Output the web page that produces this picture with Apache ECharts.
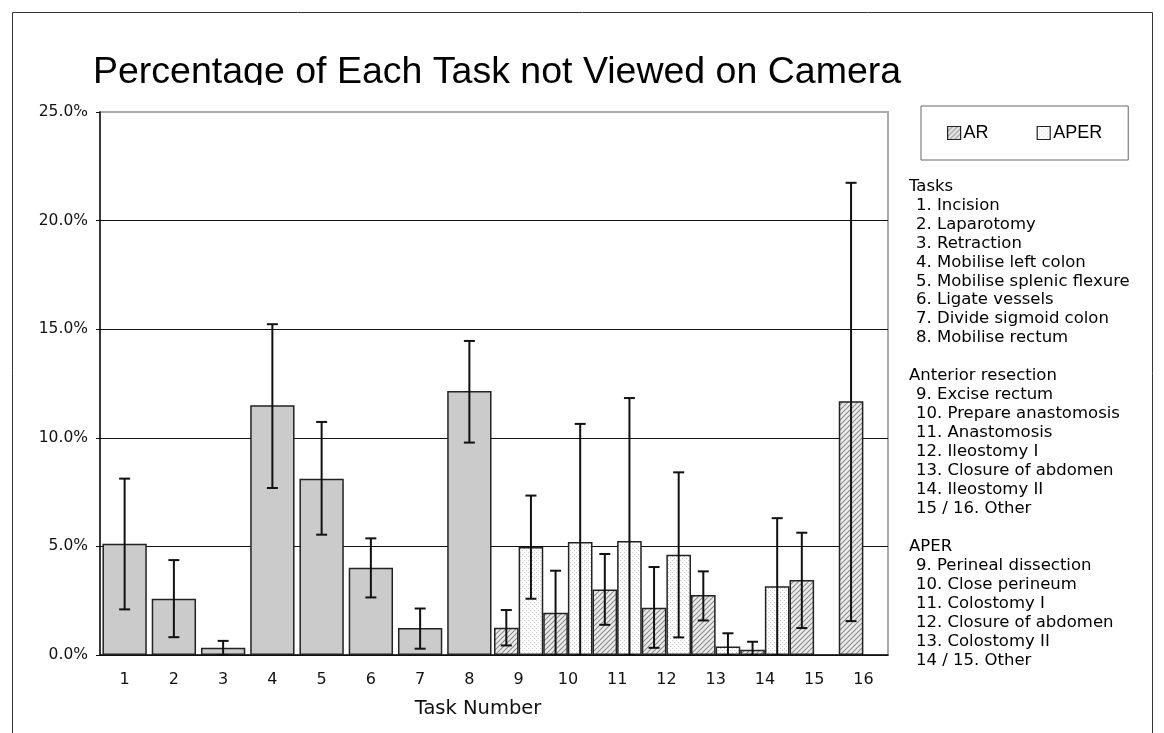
<!DOCTYPE html>
<html>
<head>
<meta charset="utf-8">
<script src="https://cdn.jsdelivr.net/npm/echarts@6/dist/echarts.min.js"></script>
<style>
  html, body { margin: 0; padding: 0; background: #fff; }
  #chart { width: 1164px; height: 733px; }
</style>
</head>
<body>
<div id="chart"></div>
<script>
// tasks on the x axis
const tasks = ['1', '2', '3', '4', '5', '6', '7', '8', '9', '10', '11', '12', '13', '14', '15', '16'];
// tasks 1-8 (common to both operations)
const allMean = [5.12, 2.59, 0.33, 11.5, 8.12, 4.02, 1.24, 12.16, null, null, null, null, null, null, null, null];
const allLow  = [2.1, 0.82, 0.0, 7.69, 5.54, 2.65, 0.29, 9.78, null, null, null, null, null, null, null, null];
const allHigh = [8.12, 4.37, 0.65, 15.23, 10.73, 5.37, 2.14, 14.46, null, null, null, null, null, null, null, null];
// anterior resection
const arMean = [null, null, null, null, null, null, null, null, 1.25, 1.94, 3.02, 2.18, 2.76, 0.24, 3.45, 11.68];
const arLow  = [null, null, null, null, null, null, null, null, 0.44, 0.0, 1.39, 0.33, 1.59, 0.0, 1.24, 1.56];
const arHigh = [null, null, null, null, null, null, null, null, 2.07, 3.88, 4.65, 4.05, 3.85, 0.61, 5.63, 21.74];
// APER
const aperMean = [null, null, null, null, null, null, null, null, 4.97, 5.2, 5.25, 4.62, 0.39, 3.16, null, null];
const aperLow  = [null, null, null, null, null, null, null, null, 2.59, 0.0, 0.0, 0.81, 0.0, 0.0, null, null];
const aperHigh = [null, null, null, null, null, null, null, null, 7.34, 10.64, 11.83, 8.41, 1.0, 6.3, null, null];

const taskHeads = ['Tasks', '', '', '', '', '', '', '', '', '', 'Anterior resection', '', '', '', '', '', '', '', '', 'APER'];
const taskItems = ['', '1. Incision', '2. Laparotomy', '3. Retraction', '4. Mobilise left colon',
  '5. Mobilise splenic flexure', '6. Ligate vessels', '7. Divide sigmoid colon', '8. Mobilise rectum', '',
  '', '9. Excise rectum', '10. Prepare anastomosis', '11. Anastomosis', '12. Ileostomy I',
  '13. Closure of abdomen', '14. Ileostomy II', '15 / 16. Other', '',
  '', '9. Perineal dissection', '10. Close perineum', '11. Colostomy I', '12. Closure of abdomen',
  '13. Colostomy II', '14 / 15. Other'];

// fill patterns
function hatch() {
  const c = document.createElement('canvas');
  c.width = 5; c.height = 5;
  const g = c.getContext('2d');
  g.fillStyle = '#ececec';
  g.fillRect(0, 0, 5, 5);
  g.strokeStyle = '#8c8c8c';
  g.lineWidth = 1.1;
  g.beginPath();
  g.moveTo(-1, 6); g.lineTo(6, -1);
  g.moveTo(-1, 1); g.lineTo(1, -1);
  g.moveTo(4, 6); g.lineTo(6, 4);
  g.stroke();
  return c;
}
function dots() {
  const c = document.createElement('canvas');
  c.width = 4; c.height = 4;
  const g = c.getContext('2d');
  g.fillStyle = '#ffffff';
  g.fillRect(0, 0, 4, 4);
  g.fillStyle = '#c8c8c8';
  g.fillRect(0, 0, 1, 1);
  g.fillRect(2, 2, 1, 1);
  return c;
}

const chart = echarts.init(document.getElementById('chart'));

const gap = 0.0;
function errBars(mean, low, high) {
  return tasks.map((t, i) => mean[i] == null ? null : [i, low[i], high[i]]).filter(d => d);
}
function errRender(shift) {
  return function (params, api) {
    const i = api.value(0);
    const lo = api.coord([i, api.value(1)]);
    const hi = api.coord([i, api.value(2)]);
    const w = api.size([1, 0])[0];
    const x = lo[0] + shift * w * (1 - gap) / 4;
    const cap = 5.5;
    const st = { stroke: '#111', lineWidth: 2 };
    return {
      type: 'group',
      children: [
        { type: 'line', shape: { x1: x, y1: hi[1], x2: x, y2: lo[1] }, style: st },
        { type: 'line', shape: { x1: x - cap, y1: hi[1], x2: x + cap, y2: hi[1] }, style: st },
        { type: 'line', shape: { x1: x - cap, y1: lo[1], x2: x + cap, y2: lo[1] }, style: st }
      ]
    };
  };
}

const labelFont = { fontFamily: 'DejaVu Sans', color: '#111' };

const option = {
  animation: false,
  title: {
    text: 'Percentage of Each Task not Viewed on Camera',
    left: 93,
    top: 54,
    padding: 0,
    textStyle: { fontFamily: 'Liberation Sans', fontSize: 37.5, fontWeight: 'normal', color: '#000' }
  },
  legend: {
    data: ['AR', 'APER'],
    icon: 'rect',
    left: 921,
    top: 106,
    padding: [18, 26, 18, 26],
    itemGap: 48,
    itemWidth: 13,
    itemHeight: 13,
    itemStyle: { borderColor: '#222', borderWidth: 1.2 },
    borderColor: '#666',
    borderWidth: 1,
    textStyle: { fontFamily: 'Liberation Sans', fontSize: 18, color: '#000', padding: [0, 0, 0, -2] }
  },
  grid: {
    left: 100, right: 276, top: 112, bottom: 78,
    show: true, borderColor: '#aaa', borderWidth: 2, backgroundColor: '#fff'
  },
  xAxis: [
    {
      type: 'category',
      data: tasks,
      name: 'Task Number',
      nameLocation: 'middle',
      nameGap: 44,
      nameTextStyle: Object.assign({ fontSize: 19.5, padding: [0, 32, 0, 0] }, labelFont),
      axisLine: { lineStyle: { color: '#111', width: 1.5 } },
      axisTick: { length: 5, lineStyle: { color: '#111' } },
      axisLabel: Object.assign({ fontSize: 16, margin: 17 }, labelFont)
    },
    { type: 'category', data: tasks, show: false }
  ],
  yAxis: {
    type: 'value',
    min: 0, max: 25, interval: 5,
    axisLine: { show: true, lineStyle: { color: '#111', width: 1.5 } },
    axisTick: { show: true, length: 4, lineStyle: { color: '#111' } },
    splitLine: { lineStyle: { color: ['#111', '#111', '#111', '#111', '#111', '#aaa'], width: 1 } },
    axisLabel: Object.assign({ fontSize: 15.5, margin: 12, formatter: v => v.toFixed(1) + '%' }, labelFont)
  },
  graphic: [
    { type: 'rect', z: 100, shape: { x: 80, y: 85, width: 835, height: 24 }, style: { fill: '#fff' } },
    { type: 'rect', z: 100, shape: { x: 12.5, y: 12.5, width: 1140, height: 800 }, style: { fill: null, stroke: '#333', lineWidth: 1 } },
    { type: 'text', z: 100, x: 909, y: 177, style: { text: taskHeads.join('\n'), font: '16.5px "DejaVu Sans"', lineHeight: 18.95, fill: '#000' } },
    { type: 'text', z: 100, x: 916, y: 177, style: { text: taskItems.join('\n'), font: '16.5px "DejaVu Sans"', lineHeight: 18.95, fill: '#000' } }
  ],
  series: [
    {
      name: 'Tasks 1-8',
      type: 'bar',
      xAxisIndex: 1,
      data: allMean,
      barWidth: '90%',
      itemStyle: { color: '#cbcbcb', borderColor: '#222', borderWidth: 1.5 }
    },
    {
      name: 'AR',
      type: 'bar',
      data: arMean,
      barGap: '0%',
      barCategoryGap: (gap * 100) + '%',
      itemStyle: { color: { image: hatch(), repeat: 'repeat' }, borderColor: '#222', borderWidth: 1.5 }
    },
    {
      name: 'APER',
      type: 'bar',
      data: aperMean,
      itemStyle: { color: { image: dots(), repeat: 'repeat' }, borderColor: '#222', borderWidth: 1.5 }
    },
    { type: 'custom', xAxisIndex: 1, z: 5, renderItem: errRender(0), data: errBars(allMean, allLow, allHigh) },
    { type: 'custom', z: 5, renderItem: errRender(-1), data: errBars(arMean, arLow, arHigh) },
    { type: 'custom', z: 5, renderItem: errRender(1), data: errBars(aperMean, aperLow, aperHigh) }
  ]
};
chart.setOption(option);
</script>
</body>
</html>
